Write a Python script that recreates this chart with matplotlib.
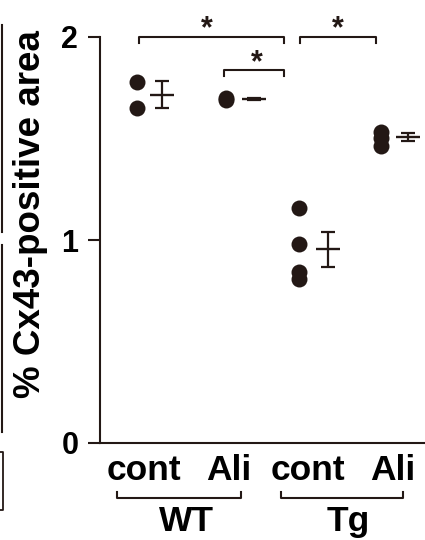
import matplotlib
matplotlib.use('Agg')
import matplotlib.pyplot as plt
from matplotlib.lines import Line2D

plt.rcParams['font.family'] = ['Liberation Sans', 'DejaVu Sans']
plt.rcParams['font.weight'] = 'bold'

# data
conditions = ['cont', 'Ali', 'cont', 'Ali']
genotypes = ['WT', 'Tg']
wt_cont = [1.78, 1.65]
wt_ali = [1.70, 1.69]
tg_cont = [1.16, 0.98, 0.84, 0.81]
tg_ali = [1.53, 1.50, 1.465]
means = [1.716, 1.695, 0.954, 1.506]
sems = [0.068, 0.005, 0.085, 0.020]
yticks = [0, 1, 2]

# layout positions (x in axis units, 0..4)
dot_x = [0.46, 1.55, 2.45, 3.46]
err_x = [0.76, 1.89, 2.81, 3.79]
label_x = [0.54, 1.59, 2.56, 3.60]

col = '#231815'

fig = plt.figure(figsize=(4.25, 5.4), dpi=100)
ax = fig.add_axes([100/425, 97/540, 325/425, 406/540])

for x, vals in zip(dot_x, [wt_cont, wt_ali, tg_cont, tg_ali]):
    ax.plot([x]*len(vals), vals, 'o', color=col, ms=11.5, mew=0, clip_on=False)

ax.errorbar(err_x, means, yerr=sems, fmt='none', ecolor=col, elinewidth=1.6,
            capsize=4.8, capthick=1.6, clip_on=False)
ax.plot(err_x, means, '_', color=col, ms=17.5, mew=1.7, ls='none', clip_on=False)

ax.set_xlim(0, 4)
ax.set_ylim(0, 2)
ax.spines['top'].set_visible(False)
ax.spines['right'].set_visible(False)
ax.spines['left'].set_linewidth(1.5)
ax.spines['bottom'].set_linewidth(1.5)
ax.spines['left'].set_color(col)
ax.spines['bottom'].set_color(col)
ax.set_yticks(yticks)
ax.set_yticklabels([str(t) for t in yticks], fontsize=22, fontweight='bold')
ax.tick_params(axis='y', length=8.6, width=1.5, color=col, pad=7)
ax.set_xticks(label_x)
ax.set_xticklabels(conditions, fontsize=25.5, fontweight='bold')
ax.tick_params(axis='x', length=0, pad=8)
ax.set_ylabel('% Cx43-positive area', fontsize=26.5, fontweight='bold')
ax.yaxis.set_label_coords(-52/325, 0.564)

# significance brackets
def bracket(x0, x1, y, drop):
    ax.plot([x0, x0, x1, x1], [y - drop, y, y, y - drop], color=col, lw=1.5, clip_on=False)

bracket(0.484, 2.268, 1.998, 0.03)
bracket(1.526, 2.268, 1.837, 0.03)
bracket(2.462, 3.393, 1.998, 0.03)
for sx, sy in [(1.32, 2.04), (1.93, 1.873), (2.93, 2.04)]:
    ax.text(sx, sy, '*', fontsize=22, fontweight='bold', ha='center', va='center', color=col)

# genotype brackets below the axis
tr = ax.get_xaxis_transform()
for (x0, x1), gx, g in zip([(0.213, 1.732), (2.224, 3.733)], [1.067, 3.052], genotypes):
    ax.plot([x0, x0, x1, x1], [-0.121, -0.135, -0.135, -0.121], color=col, lw=1.5,
            transform=tr, clip_on=False)
    ax.text(gx, -0.152, g, fontsize=25.5, fontweight='bold', ha='center', va='top',
            transform=tr, color='black')

# fragments of the neighbouring panel at the left edge
H = 540
for y0, y1 in [(25, 232), (245, 432)]:
    fig.add_artist(Line2D([2/425, 2/425], [1 - y0/H, 1 - y1/H], color=col, lw=1.5))
box = [(0, 452), (3, 452), (3, 510), (0, 510)]
fig.add_artist(Line2D([p[0]/425 for p in box], [1 - p[1]/H for p in box], color=col, lw=1.3))

fig.savefig('out.png', dpi=100)
